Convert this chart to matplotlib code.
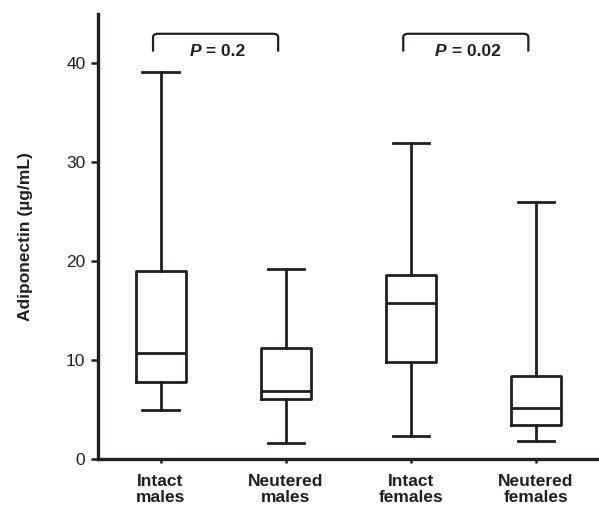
import matplotlib
matplotlib.use("Agg")
import matplotlib.pyplot as plt
from matplotlib.path import Path
from matplotlib.patches import PathPatch

plt.rcParams["font.family"] = ["Liberation Sans", "DejaVu Sans"]

# five-number summaries (ug/mL)
groups = ["Intact\nmales", "Neutered\nmales", "Intact\nfemales", "Neutered\nfemales"]
mins = [5.0, 1.6, 2.3, 1.85]
q1s = [7.8, 6.1, 9.8, 3.4]
medians = [10.75, 6.9, 15.75, 5.2]
q3s = [19.05, 11.25, 18.65, 8.37]
maxs = [39.1, 19.2, 32.0, 26.0]

# pairwise comparisons: (left group index, right group index, label)
comparisons = [(0, 1, "0.2"), (2, 3, "0.02")]

ink = "#231f20"
fs = 12.5

fig = plt.figure(figsize=(5.99, 5.09), dpi=100)
ax = fig.add_axes([0.1636, 0.098, 0.8354, 0.8745])

stats = []
for i in range(len(groups)):
    stats.append({
        "whislo": mins[i], "q1": q1s[i], "med": medians[i],
        "q3": q3s[i], "whishi": maxs[i], "fliers": [],
    })

pos = list(range(1, len(groups) + 1))
lw = 2.0
ax.bxp(stats, positions=pos, widths=0.4, showfliers=False,
       boxprops=dict(color=ink, linewidth=lw),
       medianprops=dict(color=ink, linewidth=lw),
       whiskerprops=dict(color=ink, linewidth=lw),
       capprops=dict(color=ink, linewidth=lw),
       capwidths=0.29)

ax.set_xlim(0.5, 4.5)
ax.set_ylim(0, 45)

# significance brackets with rounded corners
y_top, y_bot, r = 43.0, 41.2, 0.35
renderer = fig.canvas.get_renderer()
for a, b, p in comparisons:
    x0, x1 = pos[a] - 0.06, pos[b] - 0.06
    dx = 0.04
    verts = [(x0, y_bot), (x0, y_top - r), (x0, y_top), (x0 + dx, y_top),
             (x1 - dx, y_top), (x1, y_top), (x1, y_top - r), (x1, y_bot)]
    codes = [Path.MOVETO, Path.LINETO, Path.CURVE3, Path.CURVE3,
             Path.LINETO, Path.CURVE3, Path.CURVE3, Path.LINETO]
    ax.add_patch(PathPatch(Path(verts, codes), fill=False, edgecolor=ink,
                           linewidth=1.6, clip_on=False))
    # italic P + upright rest, centred as one string
    xm = (pos[a] + pos[b]) / 2 - 0.045
    tp = ax.text(xm, 41.2, "P", fontsize=fs, fontweight="bold", style="italic",
                 ha="right", va="center", color=ink)
    tr = ax.text(xm, 41.2, " = " + p, fontsize=fs, fontweight="bold",
                 ha="left", va="center", color=ink)
    wp = tp.get_window_extent(renderer).width
    wr = tr.get_window_extent(renderer).width
    cx = ax.transData.transform((xm, 41.2))[0]
    split = cx - (wp + wr) / 2 + wp
    xs = ax.transData.inverted().transform((split, 0))[0]
    tp.set_x(xs)
    tr.set_x(xs)

ax.set_yticks([0, 10, 20, 30, 40])
ax.set_xticks(pos)
ax.set_xticklabels(groups, fontsize=fs, fontweight="bold", linespacing=1.05)
ax.tick_params(axis="y", labelsize=fs, length=5, width=1.8, color=ink,
               labelcolor=ink, pad=4)
ax.tick_params(axis="x", length=3, width=1.8, color=ink, labelcolor=ink, pad=8)
ax.set_ylabel("Adiponectin (µg/mL)", fontsize=fs, fontweight="bold",
              color=ink, labelpad=24)

for side in ["top", "right"]:
    ax.spines[side].set_visible(False)
for side in ["left", "bottom"]:
    ax.spines[side].set_linewidth(2.4)
    ax.spines[side].set_color(ink)

fig.savefig("out.png", dpi=100)
